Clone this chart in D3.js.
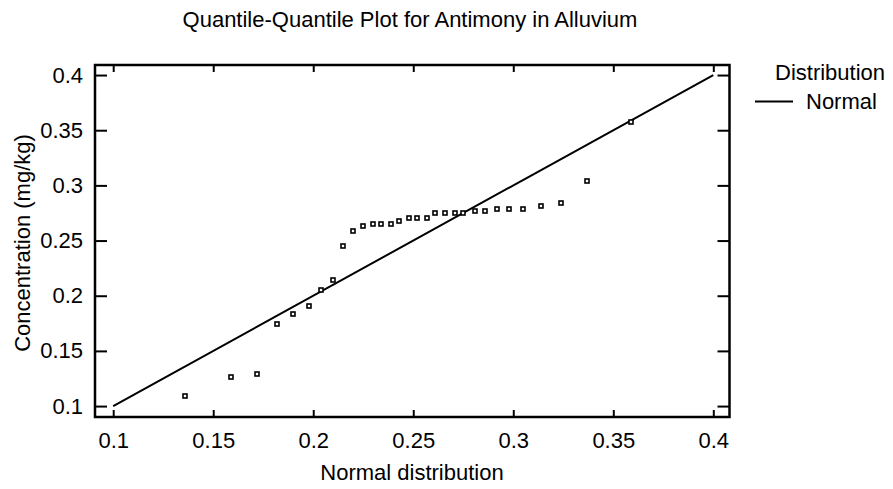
<!DOCTYPE html>
<html>
<head>
<meta charset="utf-8">
<script src="https://cdn.jsdelivr.net/npm/d3@7"></script>
<style>
  html, body { margin: 0; padding: 0; background: #fff; }
  svg { display: block; }
  text { font-family: "Liberation Sans", Arial, Helvetica, sans-serif; fill: #000; }
</style>
</head>
<body>
<svg id="chart" width="893" height="489"></svg>
<script>
// ---- Data ----
const title = "Quantile-Quantile Plot for Antimony in Alluvium";
const xLabel = "Normal distribution";
const yLabel = "Concentration (mg/kg)";
const legendTitle = "Distribution";
const legendItems = ["Normal"];

// theoretical normal quantiles (x) and observed concentrations (y)
const normalQuantiles = [0.136, 0.159, 0.172, 0.182, 0.190, 0.198, 0.204, 0.210, 0.215, 0.220,
  0.225, 0.230, 0.234, 0.239, 0.243, 0.248, 0.252, 0.257, 0.261, 0.266,
  0.271, 0.275, 0.281, 0.286, 0.292, 0.298, 0.305, 0.314, 0.324, 0.337, 0.359];
const concentrations = [0.109, 0.126, 0.129, 0.174, 0.183, 0.191, 0.205, 0.214, 0.245, 0.259,
  0.263, 0.265, 0.265, 0.265, 0.268, 0.270, 0.270, 0.270, 0.275, 0.275,
  0.275, 0.275, 0.277, 0.277, 0.279, 0.279, 0.279, 0.281, 0.284, 0.304, 0.357];

// reference line y = x
const refLine = [[0.1, 0.1], [0.4, 0.4]];
const xTicks = [0.1, 0.15, 0.2, 0.25, 0.3, 0.35, 0.4];
const yTicks = [0.1, 0.15, 0.2, 0.25, 0.3, 0.35, 0.4];
const xDomain = [0.0909, 0.4081];
const yDomain = [0.0901, 0.4091];

// ---- Layout ----
const svg = d3.select("#chart");
const plot = { left: 95, right: 729.5, top: 65, bottom: 417 };
const FS = 22;

const x = d3.scaleLinear().domain(xDomain).range([plot.left, plot.right]);
const y = d3.scaleLinear().domain(yDomain).range([plot.bottom, plot.top]);
const fmt = d => String(+d.toFixed(2));

// Axes with inward ticks
const g = svg.append("g");
const xBottom = g.append("g").attr("transform", `translate(0,${plot.bottom})`)
  .call(d3.axisBottom(x).tickValues(xTicks).tickSize(-7).tickPadding(15).tickFormat(fmt));
const xTop = g.append("g").attr("transform", `translate(0,${plot.top})`)
  .call(d3.axisTop(x).tickValues(xTicks).tickSize(-7).tickFormat(""));
const yLeft = g.append("g").attr("transform", `translate(${plot.left},0)`)
  .call(d3.axisLeft(y).tickValues(yTicks).tickSize(-12).tickPadding(12).tickFormat(fmt));
const yRight = g.append("g").attr("transform", `translate(${plot.right},0)`)
  .call(d3.axisRight(y).tickValues(yTicks).tickSize(-12).tickFormat(""));

[xBottom, xTop, yLeft, yRight].forEach(a => {
  a.select(".domain").remove();
  a.selectAll(".tick line").attr("stroke", "#000").attr("stroke-width", 2);
  a.selectAll(".tick text").attr("font-size", FS).attr("fill", "#000")
    .style("font-family", '"Liberation Sans", Arial, sans-serif');
});
xBottom.selectAll(".tick text").attr("dy", "0.71em");

// Frame
g.append("rect")
  .attr("x", plot.left).attr("y", plot.top)
  .attr("width", plot.right - plot.left).attr("height", plot.bottom - plot.top)
  .attr("fill", "none").attr("stroke", "#000").attr("stroke-width", 2.5);

// Reference line
g.append("path")
  .datum(refLine)
  .attr("d", d3.line().x(d => x(d[0])).y(d => y(d[1])))
  .attr("fill", "none").attr("stroke", "#000").attr("stroke-width", 2);

// Points
const pts = normalQuantiles.map((q, i) => ({ q, c: concentrations[i] }));
const ms = 4;
g.append("g").selectAll("rect").data(pts).join("rect")
  .attr("x", d => Math.round(x(d.q)) - ms / 2).attr("y", d => Math.round(y(d.c)) - ms / 2)
  .attr("width", ms).attr("height", ms)
  .attr("fill", "#fff").attr("stroke", "#000").attr("stroke-width", 1.6);

// Title & labels
svg.append("text").attr("x", 410).attr("y", 27).attr("text-anchor", "middle")
  .attr("font-size", FS).text(title);
svg.append("text").attr("x", 412).attr("y", 480).attr("text-anchor", "middle")
  .attr("font-size", FS).text(xLabel);
svg.append("text").attr("transform", "translate(30,243) rotate(-90)")
  .attr("text-anchor", "middle").attr("font-size", FS).text(yLabel);

// Legend
svg.append("text").attr("x", 775).attr("y", 80).attr("font-size", FS).text(legendTitle);
const leg = svg.append("g").selectAll("g").data(legendItems).join("g")
  .attr("transform", (d, i) => `translate(0,${i * 29})`);
leg.append("line").attr("x1", 755).attr("x2", 793).attr("y1", 101.5).attr("y2", 101.5)
  .attr("stroke", "#000").attr("stroke-width", 2);
leg.append("text").attr("x", 806).attr("y", 109).attr("font-size", FS).text(d => d);
</script>
</body>
</html>
